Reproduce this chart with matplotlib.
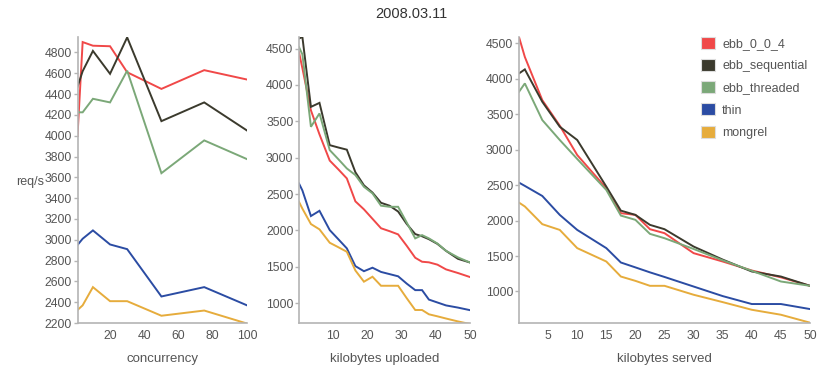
import matplotlib
matplotlib.use("Agg")
import matplotlib.pyplot as plt
from matplotlib.patches import Patch

plt.rcParams["font.family"] = ["Liberation Sans", "DejaVu Sans"]

series_names = ["ebb_0_0_4", "ebb_sequential", "ebb_threaded", "thin", "mongrel"]
series_colors = ["#f04848", "#3b3a2d", "#7ba878", "#2b4ca3", "#e6ac3c"]

# concurrency panel
x_conc = [1, 4, 10, 20, 30, 50, 75, 100]
conc_red = [4000, 4900, 4865, 4860, 4610, 4450, 4630, 4540]
conc_black = [4470, 4620, 4815, 4595, 4945, 4140, 4320, 4050]
conc_green = [4225, 4225, 4355, 4320, 4625, 3640, 3955, 3775]
conc_blue = [2950, 3010, 3090, 2955, 2910, 2455, 2545, 2370]
conc_orange = [2325, 2370, 2545, 2410, 2410, 2270, 2320, 2195]

# kilobytes uploaded panel
x_up = [0, 1, 3.5, 6, 9, 11.5, 14, 16.5, 19, 21.5, 24, 26.5, 29, 31.5,
        34, 36, 38, 40.5, 43, 46.5, 50]
up_red = [4450, 4230, 3650, 3320, 2960, 2840, 2715, 2400, 2290, 2160, 2030,
          1990, 1946, 1790, 1625, 1570, 1562, 1530, 1465, 1415, 1360]
up_black = [4637, 4659, 3698, 3753, 3172, 3140, 3110, 2800, 2620, 2520, 2380,
            2340, 2260, 2090, 1950, 1920, 1880, 1815, 1720, 1610, 1560]
up_green = [4520, 4420, 3424, 3608, 3104, 2980, 2852, 2761, 2600, 2509, 2340,
            2325, 2325, 2110, 1891, 1936, 1891, 1820, 1720, 1630, 1560]
up_blue = [2646, 2550, 2198, 2270, 2005, 1880, 1754, 1510, 1440, 1488, 1430,
           1400, 1370, 1270, 1180, 1180, 1050, 1010, 970, 940, 905]
up_orange = [2394, 2300, 2088, 2015, 1831, 1770, 1707, 1450, 1296, 1364, 1240,
             1240, 1240, 1070, 907, 907, 848, 820, 790, 750, 715]

# kilobytes served panel
x_srv = [0, 1, 4, 7, 10, 15, 17.5, 20, 22.5, 25, 30, 35, 40, 45, 50]
srv_red = [4590, 4310, 3700, 3340, 2926, 2457, 2105, 2081, 1879, 1823, 1541,
           1423, 1296, 1200, 1080]
srv_black = [4077, 4134, 3677, 3325, 3138, 2480, 2141, 2081, 1940, 1879, 1634,
             1450, 1282, 1211, 1080]
srv_green = [3818, 3936, 3419, 3138, 2870, 2433, 2071, 2011, 1813, 1752, 1600,
             1440, 1292, 1141, 1080]
srv_blue = [2536, 2490, 2348, 2081, 1869, 1612, 1409, 1340, 1270, 1205, 1070,
            935, 823, 823, 752]
srv_orange = [2254, 2200, 1950, 1869, 1612, 1423, 1211, 1150, 1080, 1080, 954,
              850, 742, 672, 560]

axis_grey = "#b4b4b4"
text_grey = "#555555"

fig = plt.figure(figsize=(8.22, 3.65), dpi=100)
fig.text(0.5, 0.962, "2008.03.11", ha="center", va="center",
         fontsize=10.5, color="#333333")

bottom, height = 0.115, 0.784
panels = [
    ([0.0943, bottom, 0.2062, height], x_conc,
     [conc_red, conc_black, conc_green, conc_blue, conc_orange],
     (1, 100), (2200, 4950), [20, 40, 60, 80, 100], range(2200, 4801, 200),
     "concurrency"),
    ([0.3637, bottom, 0.2080, height], x_up,
     [up_red, up_black, up_green, up_blue, up_orange],
     (0, 50), (728, 4660), [10, 20, 30, 40, 50], range(1000, 4501, 500),
     "kilobytes uploaded"),
    ([0.6314, bottom, 0.3540, height], x_srv,
     [srv_red, srv_black, srv_green, srv_blue, srv_orange],
     (0, 50), (555, 4593), range(5, 51, 5), range(1000, 4501, 500),
     "kilobytes served"),
]

for rect, xs, ys_list, xlim, ylim, xt, yt, xlabel in panels:
    ax = fig.add_axes(rect)
    for ys, c in zip(ys_list, series_colors):
        ax.plot(xs, ys, color=c, lw=1.4, solid_joinstyle="miter")
    ax.set_xlim(*xlim)
    ax.set_ylim(*ylim)
    ax.set_xticks(list(xt))
    ax.set_yticks(list(yt))
    for s in ["top", "right"]:
        ax.spines[s].set_visible(False)
    for s in ["left", "bottom"]:
        ax.spines[s].set_color(axis_grey)
        ax.spines[s].set_linewidth(1.2)
    ax.tick_params(axis="y", length=3, width=1, color=axis_grey, pad=1,
                   labelsize=8.8, labelcolor=text_grey)
    ax.tick_params(axis="x", length=0, pad=5, labelsize=8.8, labelcolor=text_grey)
    ax.set_xlabel(xlabel, fontsize=9.5, color=text_grey, labelpad=8)

fig.text(0.037, 0.5, "req/s", ha="center", va="center",
         fontsize=9, color=text_grey)

handles = [Patch(facecolor=c, edgecolor="#dddddd", lw=0.8) for c in series_colors]
fig.legend(handles, series_names, loc="upper left",
           bbox_to_anchor=(0.845, 0.917), frameon=False, fontsize=9,
           labelcolor=text_grey, handlelength=1.1, handleheight=1.1,
           handletextpad=0.6, labelspacing=0.72, borderpad=0)

fig.savefig("out.png", dpi=100)
